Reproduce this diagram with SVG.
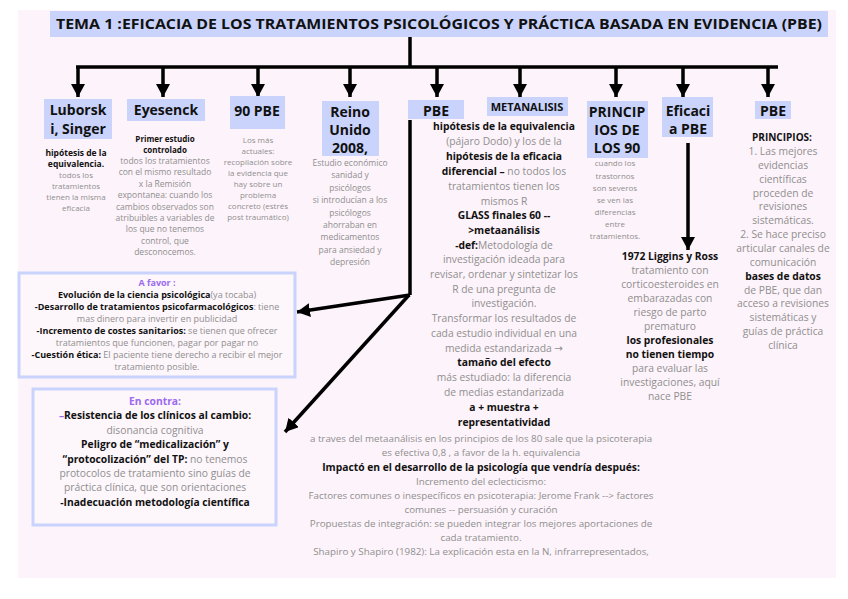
<svg xmlns="http://www.w3.org/2000/svg" width="848" height="599" viewBox="0 0 848 599">
<style>
text{font-family:"Open Sans","DejaVu Sans",sans-serif;text-anchor:middle;}
.hd{font-size:14px;font-weight:700;fill:#111;}
.b{font-weight:700;fill:#111;}
.g{fill:#8f8f8f;}
.s8{font-size:8px;}
.s85{font-size:8.5px;}
.s9{font-size:9px;}
.s10{font-size:10.3px;}
.bt{font-size:9.8px;}
.box{fill:#c9d3fb;}
.pur{fill:#9a6af0;font-weight:700;}
.ln{stroke:#000;stroke-width:3.5;fill:none;}
.frame{fill:#fdf6fb;stroke:#c9d3fb;stroke-width:3;}
</style>
<defs>
<marker id="ah" markerUnits="userSpaceOnUse" markerWidth="14" markerHeight="14" refX="13" refY="7" orient="auto">
<path d="M0,0 L13,7 L0,14 z" fill="#000"/>
</marker>
</defs>
<rect x="0" y="0" width="848" height="599" fill="#ffffff"/>
<rect x="18" y="10" width="818" height="568" fill="#fdf3fa"/>

<g id="title">
<rect x="50" y="11" width="778" height="26" class="box"/>
<text x="439" y="29" style="font-size:15px;font-weight:700;fill:#111;" textLength="766" lengthAdjust="spacingAndGlyphs">TEMA 1 :EFICACIA DE LOS TRATAMIENTOS PSICOLÓGICOS Y PRÁCTICA BASADA EN EVIDENCIA (PBE)</text>
</g>

<g id="connectors">
<line class="ln" x1="410" y1="37" x2="410" y2="67"/>
<line class="ln" x1="76" y1="67" x2="778" y2="67"/>
<line class="ln" x1="78" y1="66" x2="78" y2="97" marker-end="url(#ah)"/>
<line class="ln" x1="163" y1="66" x2="163" y2="97" marker-end="url(#ah)"/>
<line class="ln" x1="258" y1="66" x2="258" y2="97" marker-end="url(#ah)"/>
<line class="ln" x1="350" y1="66" x2="350" y2="97" marker-end="url(#ah)"/>
<line class="ln" x1="437" y1="66" x2="437" y2="97" marker-end="url(#ah)"/>
<line class="ln" x1="520" y1="66" x2="520" y2="97" marker-end="url(#ah)"/>
<line class="ln" x1="616" y1="66" x2="616" y2="97" marker-end="url(#ah)"/>
<line class="ln" x1="683" y1="66" x2="683" y2="97" marker-end="url(#ah)"/>
<line class="ln" x1="768" y1="66" x2="768" y2="97" marker-end="url(#ah)"/>
<polyline class="ln" points="410,120 410,295"/>
<line class="ln" x1="410" y1="295" x2="297" y2="312" marker-end="url(#ah)"/>
<line class="ln" x1="409" y1="295" x2="285" y2="432" marker-end="url(#ah)"/>
<line class="ln" x1="688" y1="143" x2="688" y2="250" marker-end="url(#ah)"/>
</g>

<g id="luborski">
<rect x="44" y="99" width="68" height="40" class="box"/>
<text class="hd" x="78" y="115">Luborsk</text>
<text class="hd" x="78" y="134">i, Singer</text>
<text class="s85 b" x="76" y="156">hipótesis de la</text>
<text class="s85 b" x="76" y="167">equivalencia.</text>
<text class="s8 g" x="76" y="178">todos los</text>
<text class="s8 g" x="76" y="189">tratamientos</text>
<text class="s8 g" x="76" y="200">tienen la misma</text>
<text class="s8 g" x="76" y="211">eficacia</text>
</g>

<g id="eyesenck">
<rect x="127" y="99" width="78" height="22" class="box"/>
<text class="hd" x="166" y="115">Eyesenck</text>
<text class="s8 b" x="165" y="142">Primer estudio</text>
<text class="s8 b" x="165" y="153">controlado</text>
<text class="s85 g" x="165" y="164">todos los tratamientos</text>
<text class="s85 g" x="165" y="175.4">con el mismo resultado</text>
<text class="s85 g" x="165" y="186.8">x la Remisión</text>
<text class="s85 g" x="165" y="198.2">expontanea: cuando los</text>
<text class="s85 g" x="165" y="209.6">cambios observados son</text>
<text class="s85 g" x="165" y="221">atribuibles a variables de</text>
<text class="s85 g" x="165" y="232.4">los que no tenemos</text>
<text class="s85 g" x="165" y="243.8">control, que</text>
<text class="s85 g" x="165" y="255.2">desconocemos.</text>
</g>

<g id="pbe90">
<rect x="230" y="96" width="55" height="33" class="box"/>
<text class="hd" x="257" y="116">90 PBE</text>
<text class="s8 g" x="258" y="143">Los más</text>
<text class="s8 g" x="258" y="154">actuales:</text>
<text class="s8 g" x="258" y="165">recopilación sobre</text>
<text class="s8 g" x="258" y="176">la evidencia que</text>
<text class="s8 g" x="258" y="187">hay sobre un</text>
<text class="s8 g" x="258" y="198">problema</text>
<text class="s8 g" x="258" y="209">concreto (estrés</text>
<text class="s8 g" x="258" y="220">post traumático)</text>
</g>

<g id="reino">
<rect x="322" y="101" width="57" height="55" class="box"/>
<text class="hd" x="350" y="117">Reino</text>
<text class="hd" x="350" y="135">Unido</text>
<text class="hd" x="350" y="153">2008,</text>
<text class="s85 g" x="350" y="166">Estudio económico</text>
<text class="s85 g" x="350" y="178.4">sanidad y</text>
<text class="s85 g" x="350" y="190.8">psicólogos</text>
<text class="s85 g" x="350" y="203.2">si introducían a los</text>
<text class="s85 g" x="350" y="215.6">psicólogos</text>
<text class="s85 g" x="350" y="228">ahorraban en</text>
<text class="s85 g" x="350" y="240.4">medicamentos</text>
<text class="s85 g" x="350" y="252.8">para ansiedad y</text>
<text class="s85 g" x="350" y="265.2">depresión</text>
</g>

<g id="pbe-centro">
<rect x="408" y="100" width="56" height="19" class="box"/>
<text class="hd" x="436" y="116">PBE</text>
</g>

<g id="metanalisis">
<rect x="487" y="97" width="81" height="19" class="box"/>
<text x="527" y="111" style="font-size:11px;font-weight:700;fill:#111;">METANALISIS</text>
<text class="s10 b" x="504" y="130">hipótesis de la equivalencia</text>
<text class="s10 g" x="504" y="145">(pájaro Dodo) y los de la</text>
<text class="s10 b" x="504" y="160">hipótesis de la eficacia</text>
<text class="s10" x="504" y="175"><tspan class="b">diferencial –</tspan><tspan class="g"> no todos los</tspan></text>
<text class="s10 g" x="504" y="190">tratamientos tienen los</text>
<text class="s10 g" x="504" y="204.5">mismos R</text>
<text class="s10 b" x="504" y="219">GLASS finales 60 --</text>
<text class="s10 b" x="504" y="234">&gt;metaanálisis</text>
<text class="s10" x="504" y="248.5"><tspan class="b">-def:</tspan><tspan class="g">Metodología de</tspan></text>
<text class="s10 g" x="504" y="263">investigación ideada para</text>
<text class="s10 g" x="504" y="278">revisar, ordenar y sintetizar los</text>
<text class="s10 g" x="504" y="292.5">R de una pregunta de</text>
<text class="s10 g" x="504" y="307">investigación.</text>
<text class="s10 g" x="504" y="322">Transformar los resultados de</text>
<text class="s10 g" x="504" y="337">cada estudio individual en una</text>
<text class="s10 g" x="504" y="351.5">medida estandarizada →</text>
<text class="s10 b" x="504" y="366">tamaño del efecto</text>
<text class="s10 g" x="504" y="381">más estudiado: la diferencia</text>
<text class="s10 g" x="504" y="396">de medias estandarizada</text>
<text class="s10 b" x="504" y="411">a + muestra +</text>
<text class="s10 b" x="504" y="426">representatividad</text>
<text class="bt g" x="481" y="442">a traves del metaanálisis en los principios de los 80 sale que la psicoterapia</text>
<text class="bt g" x="481" y="456">es efectiva 0,8 , a favor de la h. equivalencia</text>
<text class="b" x="481" y="470.5" style="font-size:10.3px;">Impactó en el desarrollo de la psicología que vendría después:</text>
<text class="bt g" x="481" y="485">Incremento del eclecticismo:</text>
<text class="bt g" x="481" y="499">Factores comunes o inespecíficos en psicoterapia: Jerome Frank --&gt; factores</text>
<text class="bt g" x="481" y="513">comunes -- persuasión y curación</text>
<text class="bt g" x="481" y="527">Propuestas de integración: se pueden integrar los mejores aportaciones de</text>
<text class="bt g" x="481" y="541">cada tratamiento.</text>
<text class="bt g" x="481" y="555">Shapiro y Shapiro (1982): La explicación esta en la N, infrarrepresentados,</text>
</g>

<g id="principios90">
<rect x="587" y="101" width="61" height="57" class="box"/>
<text class="hd" x="617" y="117">PRINCIP</text>
<text class="hd" x="617" y="135">IOS DE</text>
<text class="hd" x="617" y="153">LOS 90</text>
<text class="s8 g" x="615" y="166">cuando los</text>
<text class="s8 g" x="615" y="179">trastornos</text>
<text class="s8 g" x="615" y="191">son severos</text>
<text class="s8 g" x="615" y="203">se ven las</text>
<text class="s8 g" x="615" y="215">diferencias</text>
<text class="s8 g" x="615" y="227">entre</text>
<text class="s8 g" x="615" y="239">tratamientos.</text>
</g>

<g id="eficacia">
<rect x="662" y="97" width="51" height="40" class="box"/>
<text class="hd" x="688" y="116">Eficaci</text>
<text class="hd" x="688" y="134">a PBE</text>
<text class="s10 b" x="670" y="260">1972 Liggins y Ross</text>
<text class="s10 g" x="670" y="274">tratamiento con</text>
<text class="s10 g" x="670" y="288">corticoesteroides en</text>
<text class="s10 g" x="670" y="302">embarazadas con</text>
<text class="s10 g" x="670" y="316">riesgo de parto</text>
<text class="s10 g" x="670" y="330">prematuro</text>
<text class="s10 b" x="670" y="344">los profesionales</text>
<text class="s10 b" x="670" y="358">no tienen tiempo</text>
<text class="s10 g" x="670" y="372">para evaluar las</text>
<text class="s10 g" x="670" y="386">investigaciones, aquí</text>
<text class="s10 g" x="670" y="400">nace PBE</text>
</g>

<g id="pbe-principios">
<rect x="755" y="101" width="36" height="18" class="box"/>
<text class="hd" x="773" y="116">PBE</text>
<text class="b" x="782" y="141" style="font-size:10px;">PRINCIPIOS:</text>
<text class="s10 g" x="783" y="155">1. Las mejores</text>
<text class="s10 g" x="783" y="168.9">evidencias</text>
<text class="s10 g" x="783" y="182.7">científicas</text>
<text class="s10 g" x="783" y="196.6">proceden de</text>
<text class="s10 g" x="783" y="210.4">revisiones</text>
<text class="s10 g" x="783" y="224.3">sistemáticas.</text>
<text class="s10 g" x="783" y="238.1">2. Se hace preciso</text>
<text class="s10 g" x="783" y="252">articular canales de</text>
<text class="s10 g" x="783" y="265.9">comunicación</text>
<text class="s10 b" x="783" y="279.7">bases de datos</text>
<text class="s10 g" x="783" y="293.6">de PBE, que dan</text>
<text class="s10 g" x="783" y="307.4">acceso a revisiones</text>
<text class="s10 g" x="783" y="321.3">sistemáticas y</text>
<text class="s10 g" x="783" y="335.1">guías de práctica</text>
<text class="s10 g" x="783" y="349">clínica</text>
</g>

<g id="a-favor">
<rect x="19" y="273" width="276" height="104" class="frame"/>
<text class="s9 pur" x="157" y="286">A favor :</text>
<text class="s9" x="157" y="298"><tspan class="b">Evolución de la ciencia psicológica</tspan><tspan class="g">(ya tocaba)</tspan></text>
<text class="s9" x="157" y="310"><tspan class="b">-Desarrollo de tratamientos psicofarmacológicos</tspan><tspan class="g">: tiene</tspan></text>
<text class="s9 g" x="157" y="322">mas dinero para invertir en publicidad</text>
<text class="s9" x="157" y="334"><tspan class="b">-Incremento de costes sanitarios:</tspan><tspan class="g"> se tienen que ofrecer</tspan></text>
<text class="s9 g" x="157" y="346">tratamientos que funcionen, pagar por pagar no</text>
<text class="s9" x="157" y="358"><tspan class="b">-Cuestión ética:</tspan><tspan class="g"> El paciente tiene derecho a recibir el mejor</tspan></text>
<text class="s9 g" x="157" y="370">tratamiento posible.</text>
</g>

<g id="en-contra">
<rect x="33" y="389" width="243" height="136" class="frame"/>
<text class="s10 pur" x="155" y="405">En contra:</text>
<text class="s10" x="155" y="419.4"><tspan fill="#9a6af0" font-weight="700">–</tspan><tspan class="b">Resistencia de los clínicos al cambio:</tspan></text>
<text class="s10 g" x="155" y="433.8">disonancia cognitiva</text>
<text class="s10 b" x="155" y="448.2">Peligro de “medicalización” y</text>
<text class="s10" x="155" y="462.6"><tspan class="b">“protocolización” del TP:</tspan><tspan class="g"> no tenemos</tspan></text>
<text class="s10 g" x="155" y="477">protocolos de tratamiento sino guías de</text>
<text class="s10 g" x="155" y="491.4">práctica clínica, que son orientaciones</text>
<text class="s10 b" x="155" y="505.8">-Inadecuación metodología científica</text>
</g>
</svg>
